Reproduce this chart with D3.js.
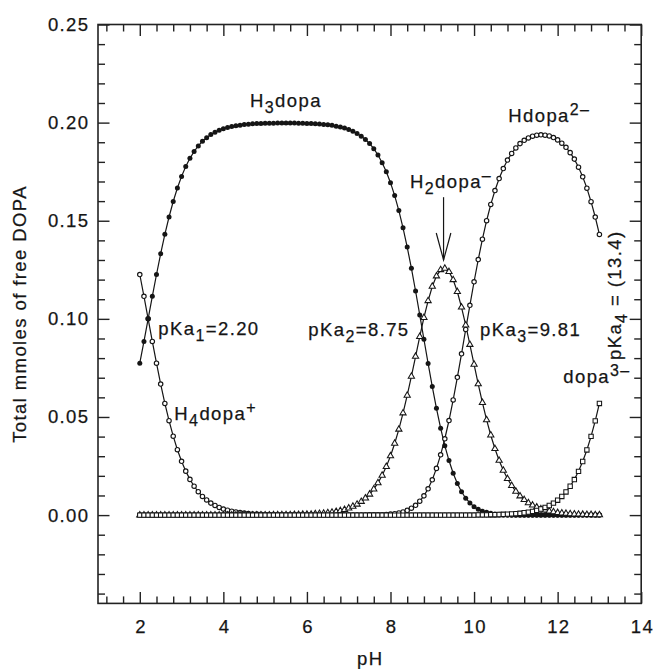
<!DOCTYPE html>
<html>
<head>
<meta charset="utf-8">
<script src="https://cdn.jsdelivr.net/npm/d3@7"></script>
<style>
  html, body { margin: 0; padding: 0; background: #fff; }
  svg { display: block; }
  text { font-family: "Liberation Sans", Arial, Helvetica, sans-serif; fill: #151515; stroke: #151515; stroke-width: 0.25px; }
</style>
</head>
<body>
<script>
// pH grid (0.1 steps from 2.0 to 13.0)
const pH = [
  2.0,2.1,2.2,2.3,2.4,2.5,2.6,2.7,2.8,2.9,
  3.0,3.1,3.2,3.3,3.4,3.5,3.6,3.7,3.8,3.9,
  4.0,4.1,4.2,4.3,4.4,4.5,4.6,4.7,4.8,4.9,
  5.0,5.1,5.2,5.3,5.4,5.5,5.6,5.7,5.8,5.9,
  6.0,6.1,6.2,6.3,6.4,6.5,6.6,6.7,6.8,6.9,
  7.0,7.1,7.2,7.3,7.4,7.5,7.6,7.7,7.8,7.9,
  8.0,8.1,8.2,8.3,8.4,8.5,8.6,8.7,8.8,8.9,
  9.0,9.1,9.2,9.3,9.4,9.5,9.6,9.7,9.8,9.9,
  10.0,10.1,10.2,10.3,10.4,10.5,10.6,10.7,10.8,10.9,
  11.0,11.1,11.2,11.3,11.4,11.5,11.6,11.7,11.8,11.9,
  12.0,12.1,12.2,12.3,12.4,12.5,12.6,12.7,12.8,12.9,
  13.0
];

// mmoles of each DOPA species (total 0.2 mmol)
const H4dopa = [
  0.1226,0.1115,0.1000,0.0885,0.0774,0.0668,0.0569,0.0481,0.0402,0.0333,
  0.0274,0.0224,0.0182,0.0147,0.0119,0.0095,0.0077,0.0061,0.0049,0.0039,
  0.0031,0.0025,0.0020,0.0016,0.0013,0.0010,0.0008,0.0006,0.0005,0.0004,
  0.0003,0.0003,0.0002,0.0002,0.0001,0.0001,0.0001,0.0001,0.0001,0,
  0,0,0,0,0,0,0,0,0,0,
  0,0,0,0,0,0,0,0,0,0,
  0,0,0,0,0,0,0,0,0,0,
  0,0,0,0,0,0,0,0,0,0,
  0,0,0,0,0,0,0,0,0,0,
  0,0,0,0,0,0,0,0,0,0,
  0,0,0,0,0,0,0,0,0,0,
  0
];
const H3dopa = [
  0.0774,0.0885,0.1000,0.1115,0.1226,0.1332,0.1431,0.1519,0.1598,0.1667,
  0.1726,0.1776,0.1818,0.1853,0.1881,0.1905,0.1923,0.1939,0.1951,0.1961,
  0.1969,0.1975,0.1980,0.1984,0.1987,0.1990,0.1992,0.1994,0.1995,0.1996,
  0.1997,0.1997,0.1997,0.1998,0.1998,0.1998,0.1998,0.1998,0.1997,0.1997,
  0.1996,0.1995,0.1994,0.1993,0.1991,0.1989,0.1986,0.1982,0.1978,0.1972,
  0.1965,0.1956,0.1945,0.1931,0.1914,0.1893,0.1867,0.1835,0.1796,0.1750,
  0.1694,0.1628,0.1552,0.1464,0.1366,0.1258,0.1142,0.1020,0.0896,0.0773,
  0.0655,0.0544,0.0443,0.0354,0.0278,0.0213,0.0161,0.0119,0.0086,0.0062,
  0.0043,0.0030,0.0020,0.0014,0.0009,0.0006,0.0004,0.0003,0.0002,0.0001,
  0.0001,0,0,0,0,0,0,0,0,0,
  0,0,0,0,0,0,0,0,0,0,
  0
];
const H2dopa = [
  0,0,0,0,0,0,0,0,0,0,
  0,0,0,0,0,0,0,0,0,0,
  0,0,0,0,0,0,0,0,0,0,
  0,0,0.0001,0.0001,0.0001,0.0001,0.0001,0.0002,0.0002,0.0003,
  0.0004,0.0004,0.0006,0.0007,0.0009,0.0011,0.0014,0.0018,0.0022,0.0028,
  0.0035,0.0044,0.0055,0.0069,0.0086,0.0106,0.0132,0.0164,0.0202,0.0247,
  0.0301,0.0365,0.0437,0.0520,0.0610,0.0707,0.0808,0.0909,0.1006,0.1092,
  0.1165,0.1218,0.1250,0.1257,0.1240,0.1199,0.1138,0.1059,0.0968,0.0869,
  0.0768,0.0668,0.0573,0.0485,0.0407,0.0338,0.0278,0.0228,0.0185,0.0150,
  0.0121,0.0097,0.0078,0.0062,0.0050,0.0040,0.0031,0.0025,0.0020,0.0016,
  0.0012,0.0010,0.0008,0.0006,0.0005,0.0004,0.0003,0.0002,0.0002,0.0001,
  0.0001
];
const Hdopa = [
  0,0,0,0,0,0,0,0,0,0,
  0,0,0,0,0,0,0,0,0,0,
  0,0,0,0,0,0,0,0,0,0,
  0,0,0,0,0,0,0,0,0,0,
  0,0,0,0,0,0,0,0,0,0,
  0,0,0,0,0,0.0001,0.0001,0.0001,0.0002,0.0003,
  0.0005,0.0007,0.0011,0.0016,0.0024,0.0035,0.0050,0.0071,0.0098,0.0134,
  0.0180,0.0238,0.0307,0.0389,0.0482,0.0587,0.0702,0.0822,0.0946,0.1069,
  0.1189,0.1302,0.1406,0.1500,0.1583,0.1654,0.1715,0.1766,0.1809,0.1843,
  0.1871,0.1893,0.1910,0.1922,0.1931,0.1936,0.1938,0.1936,0.1932,0.1924,
  0.1912,0.1895,0.1874,0.1847,0.1814,0.1773,0.1724,0.1666,0.1597,0.1519,
  0.1430
];
const dopa = [
  0,0,0,0,0,0,0,0,0,0,
  0,0,0,0,0,0,0,0,0,0,
  0,0,0,0,0,0,0,0,0,0,
  0,0,0,0,0,0,0,0,0,0,
  0,0,0,0,0,0,0,0,0,0,
  0,0,0,0,0,0,0,0,0,0,
  0,0,0,0,0,0,0,0,0,0,
  0,0,0,0,0,0,0,0,0,0,
  0,0.0001,0.0001,0.0001,0.0002,0.0002,0.0003,0.0004,0.0005,0.0006,
  0.0007,0.0009,0.0012,0.0015,0.0019,0.0024,0.0031,0.0039,0.0049,0.0061,
  0.0076,0.0095,0.0118,0.0147,0.0181,0.0223,0.0273,0.0332,0.0401,0.0480,
  0.0569
];

// axis ticks
const xTicks = [2, 4, 6, 8, 10, 12, 14];
const yTicks = [0, 0.05, 0.10, 0.15, 0.20, 0.25];
const yTickLabels = ["0.00", "0.05", "0.10", "0.15", "0.20", "0.25"];

// arrow pointing at the H2dopa⁻ maximum (pH, from value, to value)
const arrowPH = 9.27, arrowFrom = 0.162, arrowTo = 0.130;

const W = 654, H = 669;
const FS = 18.5, LS = 1.4, SUBFS = 16;
const INK = "#151515";

const svg = d3.select("body").append("svg").attr("width", W).attr("height", H);

const x = d3.scaleLinear().domain([1, 14]).range([98, 641.2]);
const y = d3.scaleLinear().domain([-0.045, 0.25]).range([603.4, 24.5]);

const [x0, x1] = x.range();
const [yb, yt] = y.range();

const xMinor = d3.range(3, 35).filter(i => i % 5 !== 0).map(i => +(i * 0.4).toFixed(1));
const yMinor = d3.range(-4, 25).filter(i => i % 5 !== 0).map(i => i / 100);

const MAJ = 11.5, MIN = 7, AX = "#222";

function styleAxis(g) {
  g.select(".domain").remove();
  g.selectAll(".tick line").attr("stroke", AX).attr("stroke-width", 1.4);
  g.selectAll(".tick text")
    .attr("font-family", "Liberation Sans, Arial, sans-serif")
    .attr("font-size", FS).attr("letter-spacing", LS).attr("fill", INK);
}

// bottom axis
svg.append("g").attr("transform", `translate(0,${yb})`)
  .call(d3.axisBottom(x).tickValues(xMinor).tickSize(-MIN).tickFormat(""))
  .call(styleAxis);
svg.append("g").attr("transform", `translate(0,${yb})`)
  .call(d3.axisBottom(x).tickValues(xTicks).tickSize(-MAJ).tickPadding(16).tickFormat(d3.format("d")))
  .call(styleAxis)
  .selectAll(".tick text").attr("dx", LS / 2);

// top axis
svg.append("g").attr("transform", `translate(0,${yt})`)
  .call(d3.axisTop(x).tickValues(xMinor).tickSize(-MIN).tickFormat(""))
  .call(styleAxis);
svg.append("g").attr("transform", `translate(0,${yt})`)
  .call(d3.axisTop(x).tickValues(xTicks).tickSize(-MAJ).tickFormat(""))
  .call(styleAxis);

// left axis
svg.append("g").attr("transform", `translate(${x0},0)`)
  .call(d3.axisLeft(y).tickValues(yMinor).tickSize(-MIN).tickFormat(""))
  .call(styleAxis);
svg.append("g").attr("transform", `translate(${x0},0)`)
  .call(d3.axisLeft(y).tickValues(yTicks).tickSize(-MAJ).tickPadding(8.5)
    .tickFormat((d, i) => yTickLabels[i]))
  .call(styleAxis);

// right axis
svg.append("g").attr("transform", `translate(${x1},0)`)
  .call(d3.axisRight(y).tickValues(yMinor).tickSize(-MIN).tickFormat(""))
  .call(styleAxis);
svg.append("g").attr("transform", `translate(${x1},0)`)
  .call(d3.axisRight(y).tickValues(yTicks).tickSize(-MAJ).tickFormat(""))
  .call(styleAxis);

// frame
svg.append("rect")
  .attr("x", x0).attr("y", yt).attr("width", x1 - x0).attr("height", yb - yt)
  .attr("fill", "none").attr("stroke", AX).attr("stroke-width", 1.6);

// axis titles
svg.append("text")
  .attr("x", (x0 + x1) / 2 + LS / 2).attr("y", 665)
  .attr("text-anchor", "middle").attr("font-size", FS).attr("letter-spacing", LS)
  .text("pH");
svg.append("text")
  .attr("transform", `translate(25.5,${(yt + yb) / 2}) rotate(-90)`)
  .attr("text-anchor", "middle").attr("font-size", FS).attr("letter-spacing", LS)
  .text("Total mmoles of free DOPA");

// curves
const series = [
  { values: H4dopa, mark: "openCircle" },
  { values: H3dopa, mark: "dot" },
  { values: H2dopa, mark: "triangle" },
  { values: Hdopa,  mark: "openCircle" },
  { values: dopa,   mark: "square" }
];

const line = d3.line().x((d, i) => x(pH[i])).y(d => y(d));
const curves = svg.append("g");
series.forEach(s => {
  curves.append("path").attr("d", line(s.values))
    .attr("fill", "none").attr("stroke", INK).attr("stroke-width", 1.2);
});

const triPath = d3.symbol().type(d3.symbolTriangle).size(17)();
const sqPath = d3.symbol().type(d3.symbolSquare).size(19)();

series.forEach(s => {
  const g = curves.append("g");
  const pts = g.selectAll("g").data(s.values).join("g")
    .attr("transform", (d, i) => `translate(${x(pH[i])},${y(d)})`);
  if (s.mark === "dot") {
    pts.append("circle").attr("r", 2.5).attr("fill", INK);
  } else if (s.mark === "openCircle") {
    pts.append("circle").attr("r", 2.2).attr("fill", "#fff")
      .attr("stroke", INK).attr("stroke-width", 1.15);
  } else if (s.mark === "triangle") {
    pts.append("path").attr("d", triPath).attr("fill", "#fff")
      .attr("stroke", INK).attr("stroke-width", 1.05);
  } else {
    pts.append("path").attr("d", sqPath).attr("fill", "#fff")
      .attr("stroke", INK).attr("stroke-width", 1.05);
  }
});

// labels with sub/superscripts
function richText(px, py, parts, transform) {
  const t = svg.append("text").attr("font-size", FS).attr("letter-spacing", LS);
  if (transform) t.attr("transform", transform);
  else t.attr("x", px).attr("y", py);
  let shift = 0;
  parts.forEach(([s, kind]) => {
    const target = kind === "sub" ? 6 : kind === "sup" ? -7 : 0;
    const ts = t.append("tspan").attr("dy", target - shift).text(s);
    if (kind) ts.attr("font-size", SUBFS);
    shift = target;
  });
  return t;
}

richText(250, 106.5, [["H"], ["3", "sub"], ["dopa"]]);
richText(174.3, 419.5, [["H"], ["4", "sub"], ["dopa"], ["+", "sup"]]);
richText(410, 188, [["H"], ["2", "sub"], ["dopa"], ["–", "sup"]]);
richText(508.3, 122, [["Hdopa"], ["2–", "sup"]]);
richText(563.3, 383, [["dopa"], ["3–", "sup"]]);
richText(158.3, 335, [["pKa"], ["1", "sub"], ["=2.20"]]);
richText(308.3, 336, [["pKa"], ["2", "sub"], ["=8.75"]]);
richText(480, 336, [["pKa"], ["3", "sub"], ["=9.81"]]);
richText(0, 0, [["pKa"], ["4", "sub"], [" = (13.4)"]], "translate(621,360) rotate(-90)");

// arrow
const ax = x(arrowPH), ay0 = y(arrowFrom), ay1 = y(arrowTo);
const arrow = svg.append("g").attr("stroke", INK).attr("stroke-width", 1.2).attr("fill", "none");
arrow.append("line").attr("x1", ax).attr("y1", ay0).attr("x2", ax).attr("y2", ay1);
arrow.append("path").attr("d", `M${ax - 7.3},${ay1 - 27}L${ax},${ay1}L${ax + 7.3},${ay1 - 27}`);
</script>
</body>
</html>
